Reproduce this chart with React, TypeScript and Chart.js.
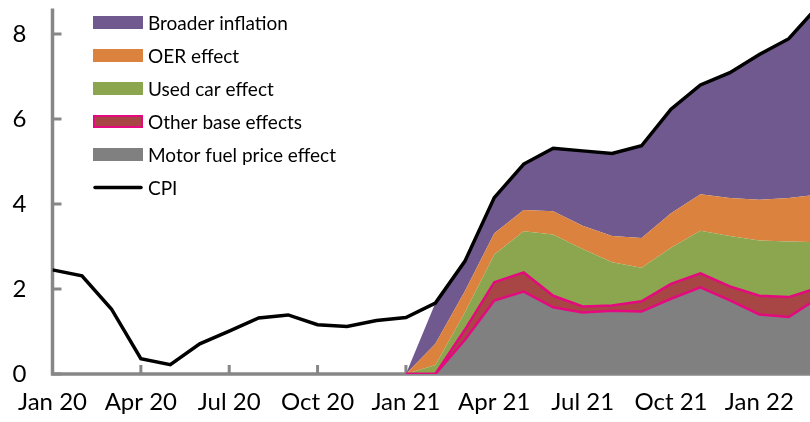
import React, { useEffect, useRef } from 'react';
import { Chart, registerables } from 'chart.js';

Chart.register(...registerables);

const MONTHS = ['Jan 20', 'Feb 20', 'Mar 20', 'Apr 20', 'May 20', 'Jun 20', 'Jul 20', 'Aug 20', 'Sep 20', 'Oct 20', 'Nov 20', 'Dec 20',
  'Jan 21', 'Feb 21', 'Mar 21', 'Apr 21', 'May 21', 'Jun 21', 'Jul 21', 'Aug 21', 'Sep 21', 'Oct 21', 'Nov 21', 'Dec 21',
  'Jan 22', 'Feb 22', 'Mar 22'];
const CPI = [2.45, 2.31, 1.53, 0.36, 0.22, 0.71, 1.01, 1.32, 1.39, 1.16, 1.12, 1.26, 1.33, 1.67, 2.65, 4.15, 4.94, 5.31, 5.25, 5.19, 5.37, 6.23, 6.80, 7.09, 7.52, 7.89, 8.66];
const COMPONENT_START = 12; // components begin at Jan 21
const MOTOR_FUEL = [0, 0, 0.80, 1.73, 1.94, 1.57, 1.45, 1.49, 1.47, 1.77, 2.04, 1.73, 1.40, 1.34, 1.79];
const OTHER_BASE = [0, 0, 0.24, 0.43, 0.45, 0.27, 0.14, 0.12, 0.24, 0.35, 0.33, 0.33, 0.44, 0.47, 0.24];
const USED_CAR = [0, 0.21, 0.41, 0.65, 0.97, 1.44, 1.35, 1.02, 0.79, 0.85, 1.00, 1.19, 1.30, 1.31, 1.07];
const OER = [0, 0.50, 0.50, 0.50, 0.50, 0.55, 0.55, 0.62, 0.70, 0.81, 0.86, 0.89, 0.96, 1.02, 1.12];
const BROADER = [0, 0.96, 0.70, 0.84, 1.08, 1.48, 1.76, 1.94, 2.17, 2.45, 2.57, 2.95, 3.42, 3.75, 4.44];
const Y_TICKS = [0, 2, 4, 6, 8];
const X_TICK_STEP = 3;
const LEGEND_ORDER = ['Broader inflation', 'OER effect', 'Used car effect', 'Other base effects', 'Motor fuel price effect', 'CPI'];

const AXIS_COLOR = '#878787';
const FONT = 'Lato, "Open Sans", sans-serif';

const toPoints = (arr: number[], start: number) => arr.map((v, i) => ({ x: start + i, y: v }));

const axesPlugin = {
  id: 'innerAxes',
  beforeDatasetsDraw(chart: any) {
    const { ctx, chartArea, scales } = chart;
    const { left, right, top, bottom } = chartArea;
    ctx.save();
    ctx.strokeStyle = AXIS_COLOR;
    ctx.lineWidth = 3.5;
    ctx.beginPath();
    ctx.moveTo(left, top);
    ctx.lineTo(left, bottom + 1.75);
    ctx.moveTo(left - 1.75, bottom);
    ctx.lineTo(right, bottom);
    ctx.stroke();
    ctx.lineWidth = 3;
    ctx.beginPath();
    Y_TICKS.forEach((v) => {
      const py = scales.y.getPixelForValue(v);
      ctx.moveTo(left, py);
      ctx.lineTo(left + 9, py);
    });
    for (let i = X_TICK_STEP; i < MONTHS.length; i += X_TICK_STEP) {
      const px = scales.x.getPixelForValue(i);
      if (px > right) break;
      ctx.moveTo(px, bottom);
      ctx.lineTo(px, bottom - 9);
    }
    ctx.stroke();
    ctx.restore();
  },
};

const legendPlugin = {
  id: 'customLegend',
  afterDraw(chart: any) {
    const { ctx } = chart;
    const datasets = chart.data.datasets;
    ctx.save();
    ctx.font = `19px ${FONT}`;
    ctx.textBaseline = 'middle';
    ctx.textAlign = 'left';
    LEGEND_ORDER.forEach((label, row) => {
      const ds = datasets.find((d: any) => d.label === label);
      const cy = 22.5 + row * 33;
      const sx = 93;
      const sw = 50;
      if (ds.fill === false) {
        ctx.strokeStyle = ds.borderColor;
        ctx.lineWidth = 3.5;
        ctx.lineCap = 'round';
        ctx.beginPath();
        ctx.moveTo(sx + 2, cy);
        ctx.lineTo(sx + sw - 2, cy);
        ctx.stroke();
      } else {
        ctx.fillStyle = ds.backgroundColor;
        ctx.fillRect(sx, cy - 6.5, sw, 13);
        if (ds.legendBorder) {
          ctx.strokeStyle = ds.legendBorder;
          ctx.lineWidth = 2;
          ctx.strokeRect(sx + 1, cy - 5.5, sw - 2, 11);
        }
      }
      ctx.fillStyle = '#000';
      ctx.fillText(label, 148, cy + 1);
    });
    ctx.restore();
  },
};

export default function App() {
  const ref = useRef<HTMLCanvasElement>(null);

  useEffect(() => {
    if (!ref.current) return;
    const areaBase = { pointRadius: 0, pointHoverRadius: 0, tension: 0, stack: 'parts' };
    const chart = new Chart(ref.current, {
      type: 'line',
      data: {
        datasets: [
          {
            label: 'CPI', data: toPoints(CPI, 0), borderColor: '#000000', borderWidth: 3.5,
            fill: false, pointRadius: 0, tension: 0, stack: 'cpi', borderJoinStyle: 'miter',
          },
          {
            ...areaBase, label: 'Motor fuel price effect', data: toPoints(MOTOR_FUEL, COMPONENT_START),
            backgroundColor: '#808080', borderColor: '#E5097F', borderWidth: 2.5, fill: 'origin',
          },
          {
            ...areaBase, label: 'Other base effects', data: toPoints(OTHER_BASE, COMPONENT_START),
            backgroundColor: '#A84545', borderColor: '#E5097F', borderWidth: 2.5, fill: '-1', legendBorder: '#E5097F',
          },
          {
            ...areaBase, label: 'Used car effect', data: toPoints(USED_CAR, COMPONENT_START),
            backgroundColor: '#8BA64F', borderColor: 'rgba(0,0,0,0)', borderWidth: 0, fill: '-1',
          },
          {
            ...areaBase, label: 'OER effect', data: toPoints(OER, COMPONENT_START),
            backgroundColor: '#DB823F', borderColor: 'rgba(0,0,0,0)', borderWidth: 0, fill: '-1',
          },
          {
            ...areaBase, label: 'Broader inflation', data: toPoints(BROADER, COMPONENT_START),
            backgroundColor: '#70598E', borderColor: 'rgba(0,0,0,0)', borderWidth: 0, fill: '-1',
          },
        ] as any,
      },
      options: {
        animation: false,
        responsive: false,
        events: [],
        layout: { padding: { top: 8.5, right: 0, bottom: 0, left: 0 } },
        plugins: { legend: { display: false }, tooltip: { enabled: false } },
        scales: {
          x: {
            type: 'linear',
            min: 0,
            max: 25.72,
            grid: { display: false, drawTicks: false },
            border: { display: false },
            afterFit: (s: any) => { s.height = 48; s.paddingLeft = 0; s.paddingRight = 0; },
            ticks: {
              stepSize: X_TICK_STEP,
              includeBounds: false,
              autoSkip: false,
              maxRotation: 0,
              padding: 14,
              color: '#000',
              font: { family: FONT, size: 24 },
              callback: (v: any) => (Number(v) % X_TICK_STEP === 0 ? MONTHS[Number(v)] : ''),
            },
          },
          y: {
            stacked: true,
            min: 0,
            max: 8.6,
            grid: { display: false, drawTicks: false },
            border: { display: false },
            afterFit: (s: any) => { s.width = 52.5; s.paddingTop = 0; s.paddingBottom = 0; },
            ticks: {
              stepSize: 2,
              includeBounds: false,
              padding: 26,
              color: '#000',
              font: { family: FONT, size: 24 },
              callback: (v: any) => (Y_TICKS.includes(Number(v)) ? String(v) : ''),
            },
          },
        },
      } as any,
      plugins: [axesPlugin, legendPlugin],
    });
    return () => chart.destroy();
  }, []);

  return (
    <div style={{ position: 'absolute', left: 0, top: 0, width: 810, height: 422, background: '#fff' }}>
      <canvas ref={ref} width={810} height={422} style={{ display: 'block', width: 810, height: 422 }} />
    </div>
  );
}
